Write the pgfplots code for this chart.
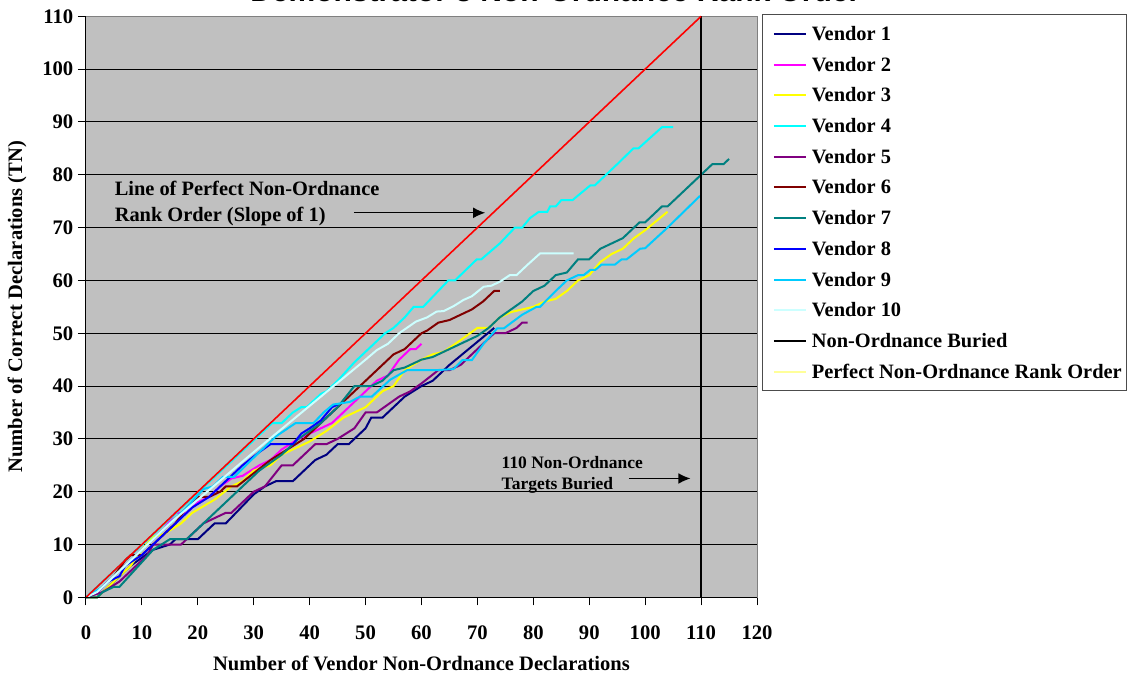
\documentclass[border=0pt]{standalone}
\usepackage{fontspec}
\setmainfont{Liberation Serif}
\newfontfamily\arialfont{Liberation Sans}
\usepackage{pgfplots}
\pgfplotsset{compat=1.18}
\usetikzlibrary{arrows.meta}

\definecolor{plotbg}{RGB}{192,192,192}
\definecolor{vOne}{RGB}{0,0,128}
\definecolor{vTwo}{RGB}{255,0,255}
\definecolor{vThree}{RGB}{255,255,0}
\definecolor{vFour}{RGB}{0,255,255}
\definecolor{vFive}{RGB}{128,0,128}
\definecolor{vSix}{RGB}{128,0,0}
\definecolor{vSeven}{RGB}{0,128,128}
\definecolor{vEight}{RGB}{0,0,255}
\definecolor{vNine}{RGB}{0,204,255}
\definecolor{vTen}{RGB}{204,255,255}
\definecolor{perfyel}{RGB}{255,255,153}

\begin{document}
\begin{tikzpicture}
\begin{axis}[
  at={(0pt,0pt)}, anchor=south west,
  width=503.25pt, height=435.75pt, scale only axis,
  xmin=0, xmax=120, ymin=0, ymax=110,
  xtick={0,10,...,120}, ytick={0,10,...,110},
  tick align=outside, xtick pos=left, ytick pos=left,
  major tick length=6pt,
  tick style={black, line width=0.75pt},
  ymajorgrids, grid style={black, line width=0.75pt},
  axis background/.style={fill=plotbg},
  axis line style={draw=black!50, line width=0.75pt},
  /pgf/number format/assume math mode=true,
  tick label style={font=\bfseries\fontsize{15.5}{16}\selectfont},
  xticklabel style={yshift=-12pt},
  xlabel={Number of Vendor Non-Ordnance Declarations},
  ylabel={Number of Correct Declarations (TN)},
  every axis x label/.style={at={(axis description cs:0.5,-0.113)}, anchor=center,
    font=\bfseries\fontsize{15.4}{16}\selectfont},
  every axis y label/.style={at={(axis description cs:-0.1028,0.5)}, anchor=center, rotate=90,
    font=\bfseries\fontsize{15.4}{16}\selectfont},
  clip=false,
  legend cell align=left,
  legend image code/.code={\path (0pt,0pt); \draw[#1, line width=1.5pt] (4pt,0pt) -- (28pt,0pt);},
  legend style={at={(1,1)}, anchor=north west, xshift=3.75pt, yshift=1.5pt,
    draw=black!70, line width=0.75pt, fill=white,
    inner xsep=3.75pt, inner ysep=5.6pt, row sep=5.8pt,
    nodes={inner sep=0pt, text height=13.5pt, text depth=3.75pt,
      font=\bfseries\fontsize{15.3}{16}\selectfont},
    /tikz/every odd column/.append style={column sep=3.75pt}},
]
% Vendor 1
\addplot[vOne, line width=1.5pt] coordinates {
(0,0)(2,0)(4,2)(8,6)(12,9)(15,10)(16,11)(20,11)(23,14)(25,14)(30,19.5)(32,21)
(34,22)(37,22)(41,26)(43,27)(45,29)(47,29)(50,32)(51,34)(53,34)(57,38)(60,40)
(62,41)(65,44)(69,47.5)(73,51)};
\addlegendentry{Vendor 1}
% Vendor 2
\addplot[vTwo, line width=1.5pt] coordinates {
(0,0)(2,1)(5,4)(8,7)(11,10)(14,13)(16,16)(18,16)(20,18)(22,19)(24,21)(26,22.5)
(28,23)(31,25)(33,26)(35,28)(38,30)(40,31)(42,32)(44,33)(46,35)(48,37)(50,39)
(52,41)(54,42)(56,45)(58,47)(59,47)(60,48)};
\addlegendentry{Vendor 2}
% Vendor 3
\addplot[vThree, line width=1.5pt] coordinates {
(0,0)(2,0)(5,3)(8,6)(10,9)(12,11.5)(14,12)(17,14)(19,16)(23,18.5)(26,21)(28,22)
(30,24)(33,25)(35,27)(37,28)(40,29.5)(43,31.5)(46,34)(48,35)(50,36)(53,39)(55,40)
(57,43)(60,45)(62,46)(64,46.5)(67,48.7)(70,51)(72,51)(74,53)(76,54)(80,55)(82,56)
(84,56.5)(86,58)(88,60)(90,61)(92,63.5)(94,65)(96,66)(98,68)(100,69.5)(104,73)};
\addlegendentry{Vendor 3}
% Vendor 4
\addplot[vFour, line width=1.5pt] coordinates {
(0,0)(33.3,33)(35,33)(37,35)(38.5,36)(39.5,36)(42,38.5)(43,39)(45,41)(48,44.5)
(50,46.5)(52,48.5)(53.5,50)(55,51)(57,53)(58.6,55)(60.3,55)(63,58)(64.8,60)(66,60)
(69.9,64)(70.7,64)(74,67)(76.7,70)(78,70)(79.4,71.8)(81,73)(82.5,73)(83,74)(84,74)
(85,75.2)(87,75.2)(90.2,78)(91,78)(95,82)(97.9,85)(98.8,85)(103,89)(105,89)};
\addlegendentry{Vendor 4}
% Vendor 5
\addplot[vFive, line width=1.5pt] coordinates {
(0,0)(3,1)(6,3)(9,6)(11,8)(12,10)(17,10)(18,11)(21,14)(23,15)(25,16)(26,16)(30,20)
(32,21)(35,25)(37,25)(41,29)(43,29)(45,30)(48,32)(50,35)(52,35)(56,38)(58,39)
(60,40.5)(63,43)(65,43)(67,44)(68,45)(70,47)(73,50)(75,50)(77,51)(78,52)(79,52)};
\addlegendentry{Vendor 5}
% Vendor 6
\addplot[vSix, line width=1.5pt] coordinates {
(0,0)(2,1)(5,4)(7,7)(8,8)(10,8)(13,11)(16,14)(18,17)(20,19)(22,19)(24,20)(25,21)
(27,21)(30,23.5)(33,26)(36,28)(39,30)(42,33)(45,36)(48,39)(51,42)(53,44)(55,46)
(57,47)(58,48)(59,49)(60,50)(61,50.5)(63,52)(65,52.5)(67,53.5)(69,54.5)(71,56)
(73,58)(74,58)};
\addlegendentry{Vendor 6}
% Vendor 7
\addplot[vSeven, line width=1.5pt] coordinates {
(0,0)(2,0)(3,1)(5,2)(6,2)(9,5.5)(12,9)(15,11)(18,11)(23,16)(27,20)(31,24)(35,27)
(38,30)(42,33)(45,36)(48,40)(51,40)(53,41)(55,43)(57,43.5)(60,45)(62,45.5)(65,47)
(67,48)(70,49.5)(72,51)(74,53)(76,54.5)(78,56)(80,58)(82,59)(84,61)(86,61.5)
(88,64)(90,64)(92,66)(94,67)(96,68)(98,70)(99,71)(100,71)(103,74)(104,74)
(110,80)(112,82)(114,82)(115,83)};
\addlegendentry{Vendor 7}
% Vendor 8
\addplot[vEight, line width=1.5pt] coordinates {
(0,0)(2,1)(4,3)(6,4)(7,6)(10,8)(13,11)(15,13)(17,15)(19,17)(20.5,18)(22,19)(25,22)
(28,25)(31,27.5)(33,29)(37,29)(38.5,31)(40,32)(42,33.5)(44,36)(45,36.5)};
\addlegendentry{Vendor 8}
% Vendor 9
\addplot[vNine, line width=1.5pt] coordinates {
(0,0)(3,2)(7,6)(11,10)(15,14)(18,17)(21,20.5)(22.7,21)(24.5,22.8)(26.5,22.8)(31,27.5)
(34,30.5)(37.5,33)(40.7,33)(42.5,35)(44.2,36.5)(47.2,37)(49,38)(51.1,38)(54.4,41.2)
(57.4,43)(62.4,43)(65.7,43.2)(67.3,44.9)(69,44.9)(71.1,48)(73.5,50.9)(74.7,50.9)
(78,53.5)(80.6,55)(81.2,55)(84,58)(86,60)(88,61)(89,61)(90.2,62)(91.1,62)(92.2,63)
(94.6,63)(95.8,64)(96.7,64)(99.1,66)(100,66.1)(104,70)(109.8,76)};
\addlegendentry{Vendor 9}
% Vendor 10
\addplot[vTen, line width=1.5pt] coordinates {
(0,0)(2,1)(5,4)(10,9)(15,14)(20,18.5)(25,23)(30,27.5)(34,31)(38,34.5)(42,38)
(46,41.5)(50,45)(52,46.8)(54,48)(56,50)(59,52.2)(61,53)(62.7,54.1)(64,54.2)
(65.7,55.1)(67.5,56.3)(69,57)(71.1,58.8)(72.5,59)(74.1,59.8)(75.8,61)(77,61)
(79,63)(81.2,65.1)(87.2,65.1)};
\addlegendentry{Vendor 10}
% non-ordnance buried
\addplot[black, line width=1.5pt] coordinates {(110,0)(110,110)};
\addlegendentry{Non-Ordnance Buried}
% perfect rank order (drawn red, legend sample light yellow)
\addplot[red, line width=1.2pt, forget plot] coordinates {(0,0)(110,110)};
\addlegendimage{perfyel}
\addlegendentry{Perfect Non-Ordnance Rank Order}

\draw[black, line width=0.75pt] (rel axis cs:0,1) -- (rel axis cs:0,0) -- (rel axis cs:1,0);

\node[anchor=base west, inner sep=0pt, font=\bfseries\fontsize{15.3}{16}\selectfont]
  at (axis cs:5.1,76.1) {Line of Perfect Non-Ordnance};
\node[anchor=base west, inner sep=0pt, font=\bfseries\fontsize{15.3}{16}\selectfont]
  at (axis cs:5.1,71.1) {Rank Order (Slope of 1)};
\draw[-{Latex[length=9pt,width=8pt]}, line width=0.9pt] (axis cs:47.9,72.8) -- (axis cs:71.4,72.8);
\node[anchor=base west, inner sep=0pt, font=\bfseries\fontsize{13.1}{14}\selectfont]
  at (axis cs:74.3,24.3) {110 Non-Ordnance};
\node[anchor=base west, inner sep=0pt, font=\bfseries\fontsize{13.1}{14}\selectfont]
  at (axis cs:74.3,20.5) {Targets Buried};
\draw[-{Latex[length=9pt,width=8pt]}, line width=0.9pt] (axis cs:97.1,22.5) -- (axis cs:108.1,22.5);
\end{axis}
\node[anchor=base west, inner sep=0pt, font=\arialfont\bfseries\fontsize{22.5}{24}\selectfont]
  at (123pt,446.5pt) {Demonstrator 3 Non-Ordnance Rank Order};
\pgfresetboundingbox
\path[use as bounding box] (-64.5pt,-56.8pt) rectangle (782.25pt,448pt);
\end{tikzpicture}
\end{document}
